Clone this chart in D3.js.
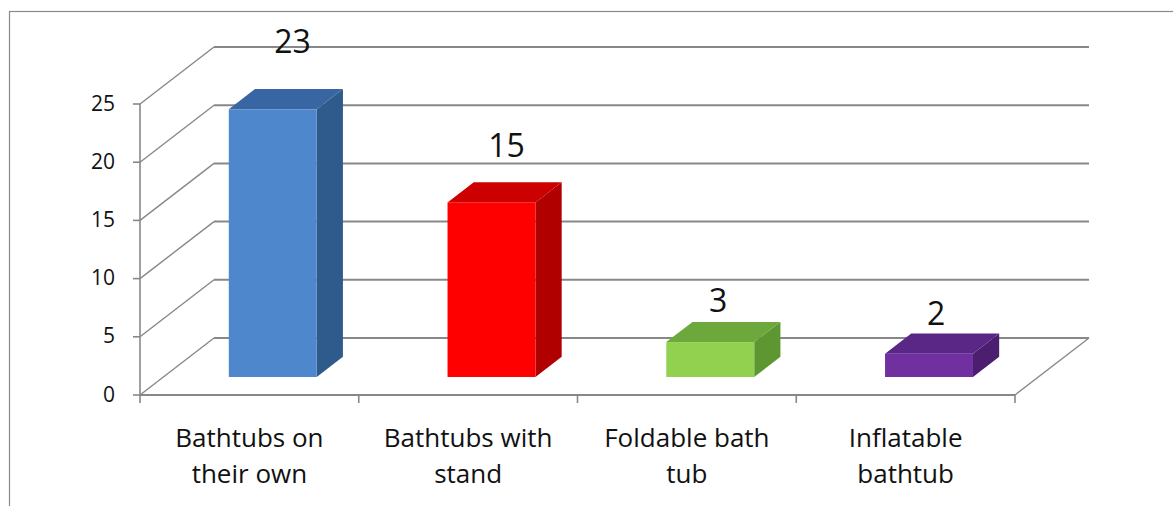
<!DOCTYPE html>
<html>
<head>
<meta charset="utf-8">
<script src="https://cdn.jsdelivr.net/npm/d3@7"></script>
<style>
  html, body { margin: 0; padding: 0; background: #fff; }
  svg { display: block; }
  text { font-family: "Open Sans", Lato, sans-serif; fill: #111; }
</style>
</head>
<body>
<svg id="chart" width="1173" height="506"></svg>
<script>
// Bathtub types and counts
const categories = ["Bathtubs on their own", "Bathtubs with stand", "Foldable bath tub", "Inflatable bathtub"];
const categoryLines = [["Bathtubs on", "their own"], ["Bathtubs with", "stand"], ["Foldable bath", "tub"], ["Inflatable", "bathtub"]];
const values = [23, 15, 3, 2];
const yTicks = [0, 5, 10, 15, 20, 25];

// Face colours per bar: front, side, top
const frontColors = ["#4F87CD", "#FF0000", "#92D050", "#7030A0"];
const sideColors  = ["#2F5A8C", "#B00000", "#5E9732", "#4B1E70"];
const topColors   = ["#3866A3", "#CC0000", "#6CA83C", "#5A2787"];

const svg = d3.select("#chart");

// Outer frame of the chart area
svg.append("rect")
  .attr("x", 9.5).attr("y", 11.5)
  .attr("width", 1200).attr("height", 520)
  .attr("fill", "none").attr("stroke", "#8a8a8a").attr("stroke-width", 1.2);

// Front plane scales
const x = d3.scaleBand().domain(categories).range([140, 1015]).paddingInner(0).paddingOuter(0);
const y = d3.scaleLinear().domain([0, 25]).range([395, 104]);
// Depth vector of the floor (front edge -> back wall)
const DX = 74, DY = -57;
// Bar depth span as fractions of floor depth
const dFront = 0.316, dBack = 0.67;
const barFrac = 0.402;

const gridColor = "#888888";
const g = svg.append("g");

// Back wall gridlines and left wall diagonals
yTicks.forEach(t => {
  g.append("line")
    .attr("x1", 140 + DX).attr("y1", y(t) + DY)
    .attr("x2", 1015 + DX).attr("y2", y(t) + DY)
    .attr("stroke", gridColor).attr("stroke-width", 2);
  g.append("line")
    .attr("x1", 140).attr("y1", y(t))
    .attr("x2", 140 + DX).attr("y2", y(t) + DY)
    .attr("stroke", gridColor).attr("stroke-width", 1.4);
});

// Floor: right diagonal and front edge
g.append("line")
  .attr("x1", 1015).attr("y1", y(0))
  .attr("x2", 1015 + DX).attr("y2", y(0) + DY)
  .attr("stroke", gridColor).attr("stroke-width", 1.4);
g.append("line")
  .attr("x1", 140).attr("y1", y(0))
  .attr("x2", 1015).attr("y2", y(0))
  .attr("stroke", gridColor).attr("stroke-width", 2.2);

// Vertical axis line with ticks and labels
g.append("line")
  .attr("x1", 140).attr("y1", y(25))
  .attr("x2", 140).attr("y2", y(0))
  .attr("stroke", gridColor).attr("stroke-width", 1.6);
yTicks.forEach(t => {
  g.append("line")
    .attr("x1", 133).attr("y1", y(t)).attr("x2", 140).attr("y2", y(t))
    .attr("stroke", gridColor).attr("stroke-width", 1.6);
  g.append("text")
    .attr("x", 115).attr("y", y(t) + 1)
    .attr("text-anchor", "end").attr("dominant-baseline", "middle")
    .attr("font-size", 21)
    .text(t);
});

// Category ticks at band boundaries
const boundaries = categories.map(c => x(c)).concat([x.range()[1]]);
boundaries.forEach(bx => {
  g.append("line")
    .attr("x1", bx).attr("y1", y(0)).attr("x2", bx).attr("y2", y(0) + 8)
    .attr("stroke", gridColor).attr("stroke-width", 1.6);
});

// Category labels
categories.forEach((c, i) => {
  const t = g.append("text")
    .attr("x", x(c) + x.bandwidth() / 2)
    .attr("text-anchor", "middle")
    .attr("font-size", 26);
  categoryLines[i].forEach((line, j) => {
    t.append("tspan")
      .attr("x", x(c) + x.bandwidth() / 2)
      .attr("y", 447 + j * 36)
      .text(line);
  });
});

// 3D bars
const bw = x.bandwidth() * barFrac;
const fdx = DX * dFront, fdy = DY * dFront;
const ddx = DX * (dBack - dFront), ddy = DY * (dBack - dFront);

categories.forEach((c, i) => {
  const v = values[i];
  const x0 = x(c) + (x.bandwidth() - bw) / 2 + fdx;
  const x1 = x0 + bw;
  const yb = y(0) + fdy;
  const yt = y(v) + fdy;
  const bar = g.append("g");
  // side face
  bar.append("path")
    .attr("d", `M${x1},${yt} L${x1 + ddx},${yt + ddy} L${x1 + ddx},${yb + ddy} L${x1},${yb} Z`)
    .attr("fill", sideColors[i]);
  // top face
  bar.append("path")
    .attr("d", `M${x0},${yt} L${x0 + ddx},${yt + ddy} L${x1 + ddx},${yt + ddy} L${x1},${yt} Z`)
    .attr("fill", topColors[i]);
  // front face
  bar.append("rect")
    .attr("x", x0).attr("y", yt)
    .attr("width", bw).attr("height", yb - yt)
    .attr("fill", frontColors[i]);
});

// Value labels above the bars; the perspective pushes taller labels further up and right
const yLabel = d3.scaleLinear().domain([0, 25]).range([351, 27]);
const xLabelShift = d3.scaleLinear().domain([0, 25]).range([6, 21]);
categories.forEach((c, i) => {
  const cx = x(c) + x.bandwidth() / 2 + fdx + xLabelShift(values[i]);
  g.append("text")
    .attr("x", cx).attr("y", yLabel(values[i]))
    .attr("text-anchor", "middle")
    .attr("font-size", 32)
    .text(values[i]);
});
</script>
</body>
</html>
